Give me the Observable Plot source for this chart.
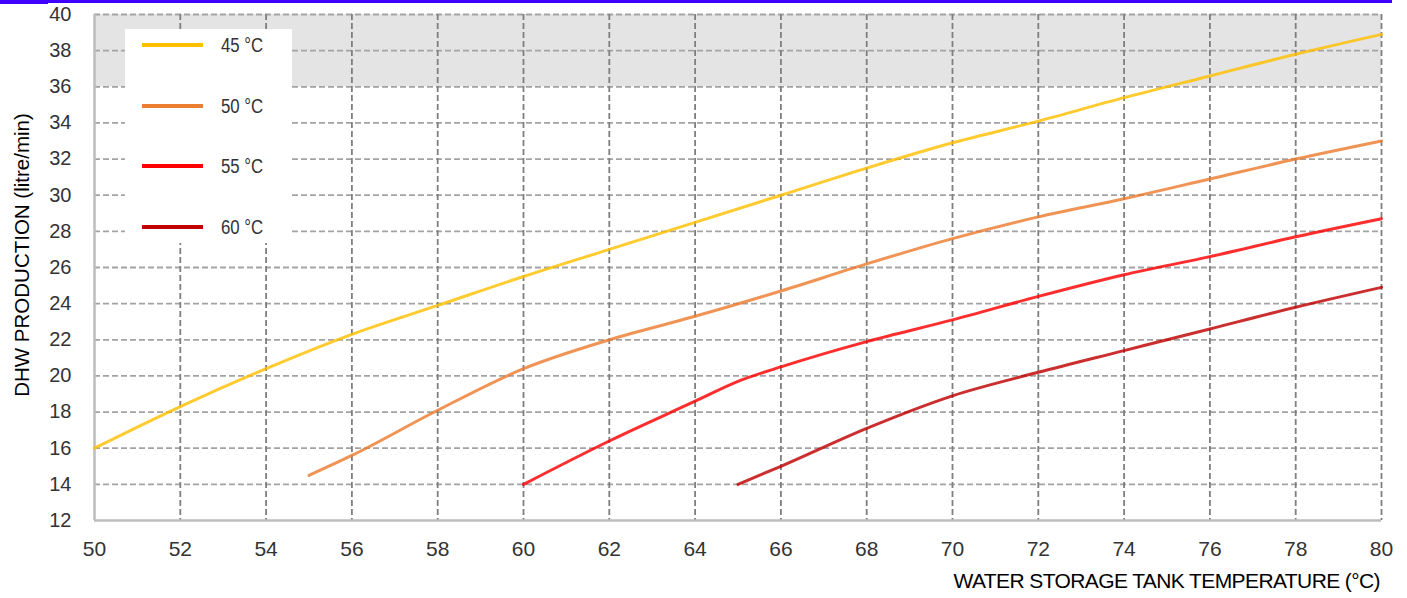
<!DOCTYPE html>
<html>
<head>
<meta charset="utf-8">
<script src="https://cdn.jsdelivr.net/npm/d3@7"></script>
<script src="https://cdn.jsdelivr.net/npm/@observablehq/plot@0.6"></script>
<style>
  html, body { margin: 0; padding: 0; background: #fff; overflow: hidden; }
  #wrap { position: relative; width: 1407px; height: 598px; font-family: "Liberation Sans", Arial, sans-serif; }
  #topbar { position: absolute; left: 0; top: 0; width: 1392px; height: 3px; background: #3f00ff; }
  #topbar2 { position: absolute; left: 0; top: 0; width: 48px; height: 4px; background: #3f00ff; }
  #legend { position: absolute; left: 125px; top: 29px; width: 167px; height: 214px; background: #fff; }
  .item { position: absolute; left: 0; height: 20px; width: 167px; }
  .swatch { position: absolute; left: 17px; top: 8px; width: 61px; height: 4px; }
  .lab { position: absolute; left: 96px; top: 0; font-family: "Liberation Sans Narrow", "Arial Narrow", "Liberation Sans", sans-serif; font-size: 20px; line-height: 20px; color: #333; transform: scaleX(0.84); transform-origin: 0 50%; white-space: nowrap; }
  #xtitle { position: absolute; right: 27px; top: 569px; font-size: 21px; letter-spacing: -0.6px; color: #000; white-space: nowrap; }
  #ytitle { position: absolute; left: 22px; top: 255px; font-size: 20.5px; color: #000; white-space: nowrap; transform: translate(-50%, -50%) rotate(-90deg); }
</style>
</head>
<body>
<div id="wrap"></div>
<script>
// ---- data ----
const seriesLabels = ["45 °C", "50 °C", "55 °C", "60 °C"];
const seriesColors = ["#ffc000", "#ed7d31", "#ff0000", "#c00000"];

const temp45 = [50, 52, 54, 56, 58, 60, 62, 64, 66, 68, 70, 72, 74, 76, 78, 80];
const dhw45  = [16, 18.3, 20.4, 22.3, 23.9, 25.5, 27.0, 28.5, 30.0, 31.5, 32.9, 34.1, 35.4, 36.6, 37.8, 38.9];

const temp50 = [55, 56, 58, 60, 62, 64, 66, 68, 70, 72, 74, 76, 78, 80];
const dhw50  = [14.5, 15.6, 18.1, 20.4, 22.0, 23.3, 24.7, 26.2, 27.6, 28.8, 29.8, 30.9, 32.0, 33.0];

const temp55 = [60, 62, 64, 65, 66, 68, 70, 72, 74, 76, 78, 80];
const dhw55  = [14, 16.4, 18.6, 19.7, 20.5, 21.9, 23.1, 24.4, 25.6, 26.6, 27.7, 28.7];

const temp60 = [65, 66, 68, 70, 72, 74, 76, 78, 80];
const dhw60  = [14, 15.0, 17.1, 18.9, 20.2, 21.4, 22.6, 23.8, 24.9];

const xTicks = [50, 52, 54, 56, 58, 60, 62, 64, 66, 68, 70, 72, 74, 76, 78, 80];
const yTicks = [12, 14, 16, 18, 20, 22, 24, 26, 28, 30, 32, 34, 36, 38, 40];
const band = [{y1: 36, y2: 40}];

const xTitle = "WATER STORAGE TANK TEMPERATURE (°C)";
const yTitle = "DHW PRODUCTION (litre/min)";

// ---- build table ----
const allTemps = [temp45, temp50, temp55, temp60];
const allDhw = [dhw45, dhw50, dhw55, dhw60];
const rows = [];
allTemps.forEach((ts, i) => ts.forEach((t, j) => rows.push({series: seriesLabels[i], t, v: allDhw[i][j]})));

const xMin = xTicks[0], xMax = xTicks[xTicks.length - 1];
const yMin = yTicks[0], yMax = yTicks[yTicks.length - 1];

const chart = Plot.plot({
  width: 1407,
  height: 598,
  marginLeft: 94,
  marginRight: 26,
  marginTop: 14,
  marginBottom: 78,
  x: {domain: [xMin, xMax]},
  y: {domain: [yMin, yMax]},
  color: {domain: seriesLabels, range: seriesColors},
  style: {fontFamily: "'Liberation Sans', Arial, sans-serif", background: "transparent"},
  marks: [
    Plot.rectY(band, {x1: xMin, x2: xMax, y1: "y1", y2: "y2", fill: "#e4e4e4"}),
    Plot.gridY(yTicks.slice(1), {stroke: "#a3a3a3", strokeOpacity: 1, strokeWidth: 1.8, strokeDasharray: "6,3"}),
    Plot.gridX(xTicks.slice(1), {stroke: "#7f7f7f", strokeOpacity: 1, strokeWidth: 1.8, strokeDasharray: "6,3"}),
    Plot.ruleX([xMin], {stroke: "#bdbdbd", strokeWidth: 2.5}),
    Plot.ruleY([yMin], {stroke: "#bdbdbd", strokeWidth: 2.5}),
    Plot.axisX(xTicks, {tickSize: 0, tickPadding: 21, fontSize: 21, fill: "#333", label: null}),
    Plot.axisY(yTicks, {tickSize: 0, tickPadding: 23, fontSize: 20, fill: "#333", label: null}),
    Plot.line(rows, {x: "t", y: "v", z: "series", stroke: "series", strokeWidth: 3, strokeOpacity: 0.82, curve: "monotone-x"})
  ]
});

const wrap = document.getElementById("wrap");
wrap.appendChild(chart);

const bar = document.createElement("div"); bar.id = "topbar"; wrap.appendChild(bar);
const bar2 = document.createElement("div"); bar2.id = "topbar2"; wrap.appendChild(bar2);

const legend = document.createElement("div");
legend.id = "legend";
seriesLabels.forEach((lab, i) => {
  const it = document.createElement("div");
  it.className = "item";
  it.style.top = (6 + i * 60.5) + "px";
  const sw = document.createElement("div");
  sw.className = "swatch";
  sw.style.background = seriesColors[i];
  const tx = document.createElement("div");
  tx.className = "lab";
  tx.textContent = lab;
  it.appendChild(sw); it.appendChild(tx);
  legend.appendChild(it);
});
wrap.appendChild(legend);

const xt = document.createElement("div"); xt.id = "xtitle"; xt.textContent = xTitle; wrap.appendChild(xt);
const yt = document.createElement("div"); yt.id = "ytitle"; yt.textContent = yTitle; wrap.appendChild(yt);
</script>
</body>
</html>
